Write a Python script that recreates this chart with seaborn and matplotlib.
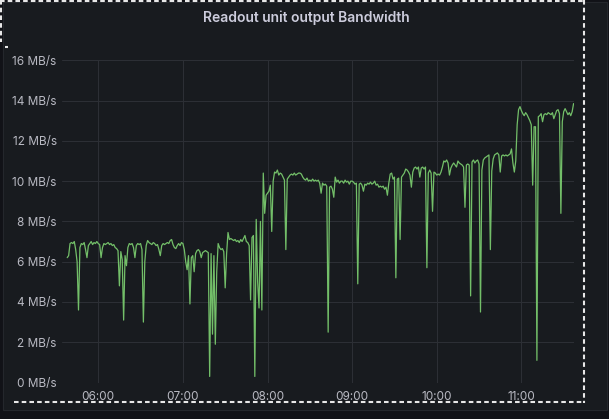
import pandas as pd
import matplotlib
matplotlib.use('Agg')
import matplotlib.pyplot as plt
import matplotlib.dates as mdates
from matplotlib.lines import Line2D
from matplotlib.patches import Rectangle
import seaborn as sns

# Readout bandwidth (MB/s), one sample per minute starting 05:38
hour05 = [6.2, 6.3, 6.9, 6.95, 6.9, 7.0, 6.6, 6.0, 3.6, 6.7, 6.9, 6.85, 6.95, 6.6, 6.2, 6.8,
          6.9, 7.0, 6.85, 6.95, 6.9, 7.0]
hour06 = [6.9, 6.85, 6.2, 6.7, 6.9, 6.85, 6.9, 6.95, 6.85, 6.9,
          6.8, 6.85, 6.7, 6.65, 6.55, 4.8, 6.5, 6.1, 3.1, 6.3,
          5.8, 6.7, 6.9, 6.85, 6.9, 6.7, 6.2, 6.8, 6.9, 6.85,
          6.9, 6.6, 3.0, 6.0, 6.8, 7.05, 6.95, 6.9, 6.85, 6.95,
          6.9, 6.8, 6.85, 6.6, 6.3, 6.8, 6.9, 6.85, 6.9, 6.95,
          6.9, 7.05, 7.1, 6.85, 6.7, 6.65, 6.8, 6.9, 6.8, 6.95]
hour07 = [6.9, 6.6, 6.0, 5.6, 6.3, 3.9, 6.2, 6.3, 5.5, 6.4,
          6.55, 6.6, 6.5, 6.2, 6.45, 6.5, 6.55, 6.5, 6.45, 0.3,
          6.4, 2.4, 6.3, 1.9, 5.5, 6.9, 6.7, 6.6, 6.65, 6.5,
          4.7, 6.4, 7.45, 7.1, 7.15, 7.1, 7.05, 7.1, 7.0, 7.05,
          6.95, 7.1, 7.0, 7.15, 7.3, 7.0, 6.95, 6.8, 4.1, 7.2,
          7.3, 0.3, 8.1, 5.0, 3.7, 8.0, 3.6, 10.4, 8.4, 9.3]
hour08 = [9.4, 9.5, 9.8, 7.5, 10.0, 10.45, 10.4, 10.55, 10.3, 10.4,
          10.35, 10.2, 10.05, 6.6, 10.1, 10.2, 10.3, 10.35, 10.3, 10.4,
          10.3, 10.35, 10.4, 10.4, 10.35, 10.2, 10.1, 10.05, 10.15, 10.0,
          10.05, 10.0, 10.1, 10.0, 10.05, 10.0, 10.05, 9.9, 9.4, 9.9,
          9.8, 9.85, 9.75, 2.5, 9.7, 9.75, 9.6, 9.2, 10.2, 9.95,
          10.05, 9.9, 10.0, 10.0, 9.9, 10.05, 9.95, 10.0, 9.85, 10.0]
hour09 = [10.0, 9.95, 9.85, 9.9, 4.9, 9.85, 9.9, 9.8, 9.5, 9.85,
          9.8, 9.9, 9.85, 9.95, 9.85, 9.9, 10.0, 9.8, 9.85, 9.7,
          9.75, 9.7, 9.75, 9.6, 9.7, 9.3, 9.9, 10.35, 10.4, 10.1,
          10.2, 5.2, 10.1, 10.15, 7.1, 10.2, 10.3, 10.4, 10.6, 10.55,
          10.45, 10.3, 9.7, 10.45, 10.65, 10.7, 10.6, 10.7, 10.2, 10.65,
          10.7, 10.6, 10.7, 5.7, 10.4, 10.55, 10.4, 8.5, 10.45, 10.4]
hour10 = [10.3, 10.35, 10.3, 10.45, 10.7, 11.0, 10.95, 11.05, 10.9, 10.3,
          10.65, 10.8, 10.9, 10.8, 10.7, 11.0, 10.9, 10.85, 10.8, 10.7,
          8.7, 10.8, 10.85, 10.8, 4.3, 10.95, 11.05, 10.9, 11.0, 11.05,
          10.85, 3.5, 10.55, 11.05, 11.15, 11.2, 11.25, 11.3, 6.6, 10.5,
          11.1, 11.3, 11.35, 11.4, 11.3, 10.45, 11.25, 11.3, 11.25, 11.3,
          11.25, 11.3, 11.35, 11.6, 10.9, 10.45, 11.0, 12.8, 13.55, 13.7]
hour11 = [13.5, 13.35, 13.25, 13.4, 13.3, 13.15, 13.0, 12.8, 9.8, 12.7,
          12.7, 1.1, 13.2, 13.25, 13.35, 12.95, 13.3, 13.35, 13.3, 13.4,
          13.35, 13.3, 13.4, 13.1, 13.3, 13.5, 13.55, 13.35, 8.4, 12.95,
          13.45, 13.6, 13.45, 13.3, 13.4, 13.25, 13.45, 13.85]

y_ticks = [0, 2, 4, 6, 8, 10, 12, 14, 16]
title = 'Readout unit output Bandwidth'

values = hour05 + hour06 + hour07 + hour08 + hour09 + hour10 + hour11
times = pd.date_range('2024-05-14 05:38', periods=len(values), freq='min')
df = pd.DataFrame({'time': times, 'bandwidth': values})

sns.set_theme(style='dark')
plt.rcParams['font.family'] = ['Inter', 'DejaVu Sans']

W, H = 609, 419
fig = plt.figure(figsize=(W / 100, H / 100), dpi=100, facecolor='#111217')

# panel background, kept behind the axes
fig.patches.append(Rectangle((3 / W, 1 - 410 / H), 604 / W, 408 / H, transform=fig.transFigure,
                             facecolor='#181b1f', edgecolor='#24272c', lw=0.8, zorder=-10))

ax = fig.add_axes([62 / W, 1 - 382.5 / H, (574 - 62) / W, (382.5 - 60.3) / H])
ax.set_facecolor('#181b1f')

sns.lineplot(data=df, x='time', y='bandwidth', ax=ax, color='#73bf69', linewidth=0.9)

ax.set_xlim(times[0] - pd.Timedelta(minutes=3.7), times[-1] + pd.Timedelta(minutes=0.3))
ax.set_ylim(0, 16)
ax.set_yticks(y_ticks)
ax.set_yticklabels([f'{v} MB/s' for v in y_ticks])
ax.xaxis.set_major_locator(mdates.HourLocator())
ax.xaxis.set_major_formatter(mdates.DateFormatter('%H:%M'))
ax.set_xlabel('')
ax.set_ylabel('')
ax.grid(True, color='#2c2f35', linewidth=0.75)
for s in ax.spines.values():
    s.set_visible(False)
ax.tick_params(axis='both', length=0, colors='#b8b9c2', labelsize=8.5)
ax.tick_params(axis='y', pad=3.8)
ax.tick_params(axis='x', pad=6)

fig.text(306 / W, 1 - 18 / H, title, ha='center', va='center', color='#ccccdc',
         fontsize=10, fontweight='semibold')


# dashed selection outline
def dash(x0, y0, x1, y1):
    fig.add_artist(Line2D([x0 / W, x1 / W], [1 - y0 / H, 1 - y1 / H], transform=fig.transFigure,
                          color='#e8e8e8', lw=1.5, linestyle=(0, (2.2, 1.5))))


dash(0, 0.8, 585, 0.8)
dash(583.7, 0, 583.7, 402.5)
dash(14, 401.8, 584.5, 401.8)
dash(1, 0, 1, 42)
dash(5, 46.7, 8, 46.7)

fig.savefig('out.png', dpi=100, facecolor=fig.get_facecolor())
